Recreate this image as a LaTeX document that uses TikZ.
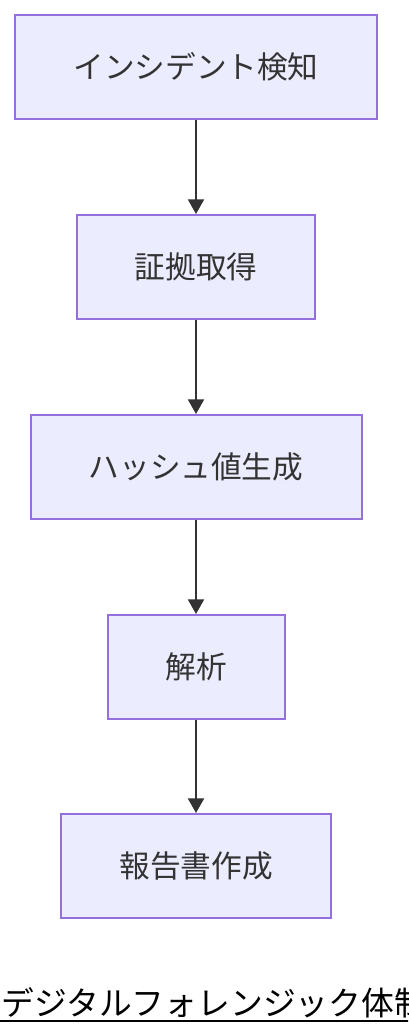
\documentclass[tikz,border=0pt]{standalone}
\usepackage{fontspec}
\setmainfont{Noto Sans CJK JP}
\usetikzlibrary{arrows.meta}
\definecolor{boxfill}{HTML}{ECECFF}
\definecolor{boxline}{HTML}{9370DB}
\definecolor{ink}{HTML}{333333}
\tikzset{
	stepbox/.style = {draw = boxline, fill = boxfill, line width = 1.5pt, text = ink,
		inner sep = 0pt, minimum height = 104*0.75pt, minimum width = #1*0.75pt,
		font = \fontsize{23pt}{27pt}\selectfont},
	flow/.style = {draw = ink, line width = 1.5pt, -{Triangle[length = 11pt, width = 12pt]}}
}
\begin{document}
\begin{tikzpicture}[x = 0.75pt, y = -0.75pt]
	% page
	\clip (0, 0) rectangle (408, 1036);
	\fill[white] (0, 0) rectangle (408, 1036);
	% the steps
	\node[stepbox = 362] (detect)  at (196, 67)  {インシデント検知};
	\node[stepbox = 238] (collect) at (196, 267) {証拠取得};
	\node[stepbox = 331] (hash)    at (196, 467) {ハッシュ値生成};
	\node[stepbox = 177] (analyse) at (196, 667) {解析};
	\node[stepbox = 270] (report)  at (196, 866) {報告書作成};
	% arrows
	\draw[flow] (detect)  -- (collect);
	\draw[flow] (collect) -- (hash);
	\draw[flow] (hash)    -- (analyse);
	\draw[flow] (analyse) -- (report);
	% title
	\node[anchor = base west, inner sep = 0pt, font = \fontsize{24.6pt}{29pt}\selectfont]
		(title) at (1, 1015) {デジタルフォレンジック体制};
	\draw[line width = 1.5pt] ([yshift = -4.5pt] title.base west -| 0, 0) -- ([yshift = -4.5pt] title.base east);
\end{tikzpicture}
\end{document}
